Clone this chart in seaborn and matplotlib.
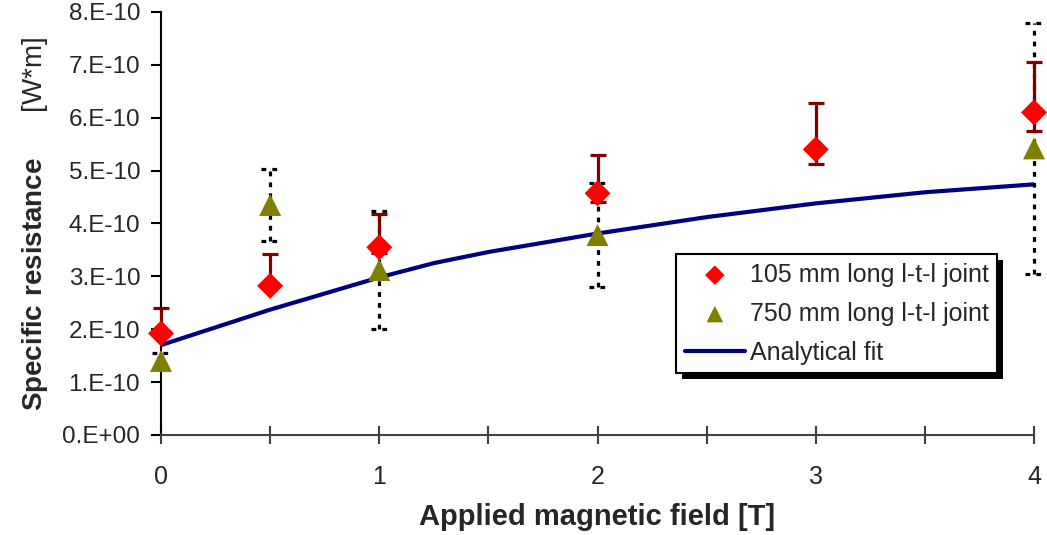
import numpy as np
import pandas as pd
import matplotlib
matplotlib.use('Agg')
import matplotlib.pyplot as plt
from matplotlib.patches import Rectangle
from matplotlib.ticker import FixedLocator, MultipleLocator
import seaborn as sns

SCALE = 1e-10

# 105 mm long joint (red diamonds), values in units of 1e-10 Ohm*m
field_105 = [0, 0.5, 1, 2, 3, 4]
res_105 = [1.92, 2.82, 3.55, 4.57, 5.40, 6.10]
err_105_plus = [0.48, 0.60, 0.62, 0.73, 0.87, 0.95]
err_105_minus = [0.0, 0.0, 0.10, 0.17, 0.27, 0.35]

# 750 mm long joint (olive triangles)
field_750 = [0, 0.5, 1, 2, 4]
res_750 = [1.40, 4.35, 3.12, 3.78, 5.42]
err_750_plus = [0.15, 0.68, 1.12, 0.98, 2.38]
err_750_minus = [0.0, 0.68, 1.12, 0.98, 2.38]

# analytical fit
fit_field = [0, 0.5, 1, 1.25, 1.5, 2, 2.5, 3, 3.5, 4]
fit_res = [1.70, 2.37, 2.98, 3.25, 3.46, 3.81, 4.12, 4.38, 4.59, 4.74]

ytick_vals = [0, 1, 2, 3, 4, 5, 6, 7, 8]
ytick_labels = ['0.E+00', '1.E-10', '2.E-10', '3.E-10', '4.E-10',
                '5.E-10', '6.E-10', '7.E-10', '8.E-10']
xtick_vals = [0, 1, 2, 3, 4]

labels = ['105 mm long l-t-l joint', '750 mm long l-t-l joint', 'Analytical fit']

sns.set_style('white')
plt.rcParams['font.family'] = ['Liberation Sans', 'DejaVu Sans']
plt.rcParams['mathtext.fontset'] = 'custom'
plt.rcParams['mathtext.bf'] = 'Liberation Sans:bold'
plt.rcParams['mathtext.rm'] = 'Liberation Sans'

df105 = pd.DataFrame({'B': field_105, 'R': np.array(res_105) * SCALE})
df750 = pd.DataFrame({'B': field_750, 'R': np.array(res_750) * SCALE})
dffit = pd.DataFrame({'B': fit_field, 'R': np.array(fit_res) * SCALE})

fig = plt.figure(figsize=(10.47, 5.35), dpi=100)
ax = fig.add_axes([0.1538, 0.187, 0.8338, 0.7906])
ax.patch.set_visible(False)

sns.lineplot(data=dffit, x='B', y='R', color='#000080', lw=3.0, ax=ax,
             zorder=2, label=labels[2])

# dotted error bars for the 750 mm joint
dots = (0, (1.5, 1.9))
eb = ax.errorbar(df750['B'], df750['R'],
                 yerr=[np.array(err_750_minus) * SCALE, np.array(err_750_plus) * SCALE],
                 fmt='none', ecolor='black', elinewidth=2.3, capsize=0, zorder=3)
for lc in eb[2]:
    lc.set_linestyle(dots)
    lc.set_clip_on(False)
lo = df750['R'] - np.array(err_750_minus) * SCALE
hi = df750['R'] + np.array(err_750_plus) * SCALE
for ends in (lo[np.array(err_750_minus) > 0], hi):
    caps = ax.hlines(ends, df750['B'][ends.index] - 0.04, df750['B'][ends.index] + 0.04,
                     colors='black', linewidth=2.3, linestyles=dots, zorder=3)
    caps.set_clip_on(False)

# solid error bars for the 105 mm joint
eb = ax.errorbar(df105['B'], df105['R'],
                 yerr=[np.array(err_105_minus) * SCALE, np.array(err_105_plus) * SCALE],
                 fmt='none', ecolor='#800000', elinewidth=2.3, capsize=6, capthick=2.3,
                 zorder=3.5)
for art in list(eb[1]) + list(eb[2]):
    art.set_clip_on(False)

sns.scatterplot(data=df750, x='B', y='R', marker='^', s=250, color='#808000',
                edgecolor='none', ax=ax, zorder=4, clip_on=False, label=labels[1])
sns.scatterplot(data=df105, x='B', y='R', marker='D', s=175, color='red',
                edgecolor='none', ax=ax, zorder=5, clip_on=False, label=labels[0])

ax.set_xlim(0, 4)
ax.set_ylim(0, 8 * SCALE)
ax.yaxis.set_major_locator(FixedLocator(np.array(ytick_vals) * SCALE))
ax.set_yticklabels(ytick_labels)
ax.set_xticks(xtick_vals)
ax.set_xticklabels([str(v) for v in xtick_vals])
ax.xaxis.set_minor_locator(MultipleLocator(0.5))

for side in ['top', 'right']:
    ax.spines[side].set_visible(False)
ax.spines['left'].set_color('black')
ax.spines['left'].set_linewidth(1.5)
ax.spines['bottom'].set_color('#404040')
ax.spines['bottom'].set_linewidth(1.5)

ax.tick_params(axis='y', which='major', direction='out', length=7, width=1.5,
               color='black', labelsize=17.5, pad=8, left=True)
ax.tick_params(axis='x', which='both', direction='inout', length=13, width=1.5,
               color='#404040', labelsize=18, pad=15, bottom=True)

ax.set_xlabel('Applied magnetic field [T]', fontsize=21, fontweight='bold', labelpad=10)
ax.set_ylabel(r'$\mathbf{Specific\ resistance}$      [W*m]', fontsize=20, labelpad=9)

handles, labs = ax.get_legend_handles_labels()
order = [labs.index(l) for l in labels]
leg = ax.legend([handles[i] for i in order], [labs[i] for i in order],
                loc='upper left', bbox_to_anchor=(0.59, 0.428), borderaxespad=0,
                fontsize=18, frameon=True, fancybox=False, edgecolor='black',
                framealpha=1, handlelength=2.4, handletextpad=0.2, labelspacing=0.6,
                borderpad=0.35, markerscale=0.75)
leg.get_frame().set_linewidth(1.5)

fig.canvas.draw()
bb = leg.get_window_extent()
fig.add_artist(Rectangle((bb.x0 + 6, bb.y0 - 6), bb.width, bb.height, transform=None,
                         facecolor='black', edgecolor='none', zorder=-1))

fig.savefig('out.png', dpi=100, facecolor='white')
